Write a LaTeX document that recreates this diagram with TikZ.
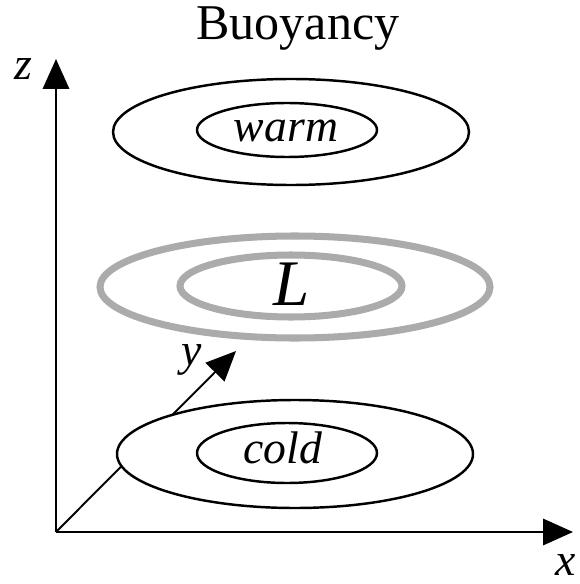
\documentclass[tikz,border=0pt]{standalone}
\usepackage{fontspec}
\setmainfont{Liberation Serif}
\usetikzlibrary{arrows.meta}
\tikzset{
  axis/.style={line width=1.1pt, -{Triangle[length=17pt,width=15pt]}},
  layer/.style={line width=1.4pt, fill=white},
  haze/.style={line width=4pt, draw=black!33},
  lbl/.style={font=\fontsize{26}{26}\selectfont\itshape, anchor=base, inner sep=0pt}
}
\begin{document}
\begin{tikzpicture}[x=0.02cm, y=-0.02cm]
    \useasboundingbox (0,0) rectangle (580,584);

    % Title
    \node[font=\fontsize{28.5}{28.5}\selectfont, anchor=base, inner sep=0pt] (title) at (298,40) {Buoyancy};

    % Axes
    \coordinate (origin) at (56,532);
    \coordinate (xtip) at (573,532);
    \coordinate (ytip) at (236,351);
    \coordinate (ztip) at (56,59);
    \draw[axis] (origin) -- (xtip);
    \draw[axis] (origin) -- (ytip);
    \draw[axis] (origin) -- (ztip);
    \node[lbl] (xlabel) at (566,575) {x};
    \node[lbl] (ylabel) at (192,365) {y};
    \node[lbl] (zlabel) at (23,80) {z};

    % Upper layer
    \draw[layer] (291,132) ellipse (178 and 53);
    \draw[layer] (287,130) ellipse (90 and 27);
    \node[lbl] (warm) at (286,142) {warm};

    % Middle layer (grey)
    \draw[haze] (295,287) ellipse (195 and 51);
    \draw[haze] (291,286) ellipse (111 and 31);
    \node[lbl, font=\fontsize{37}{37}\selectfont\itshape] (low) at (292,305) {L};

    % Lower layer
    \draw[layer] (295,454) ellipse (178 and 54);
    \draw[layer] (287,453) ellipse (90 and 30);
    \node[lbl] (cold) at (283,463) {cold};
\end{tikzpicture}
\end{document}
